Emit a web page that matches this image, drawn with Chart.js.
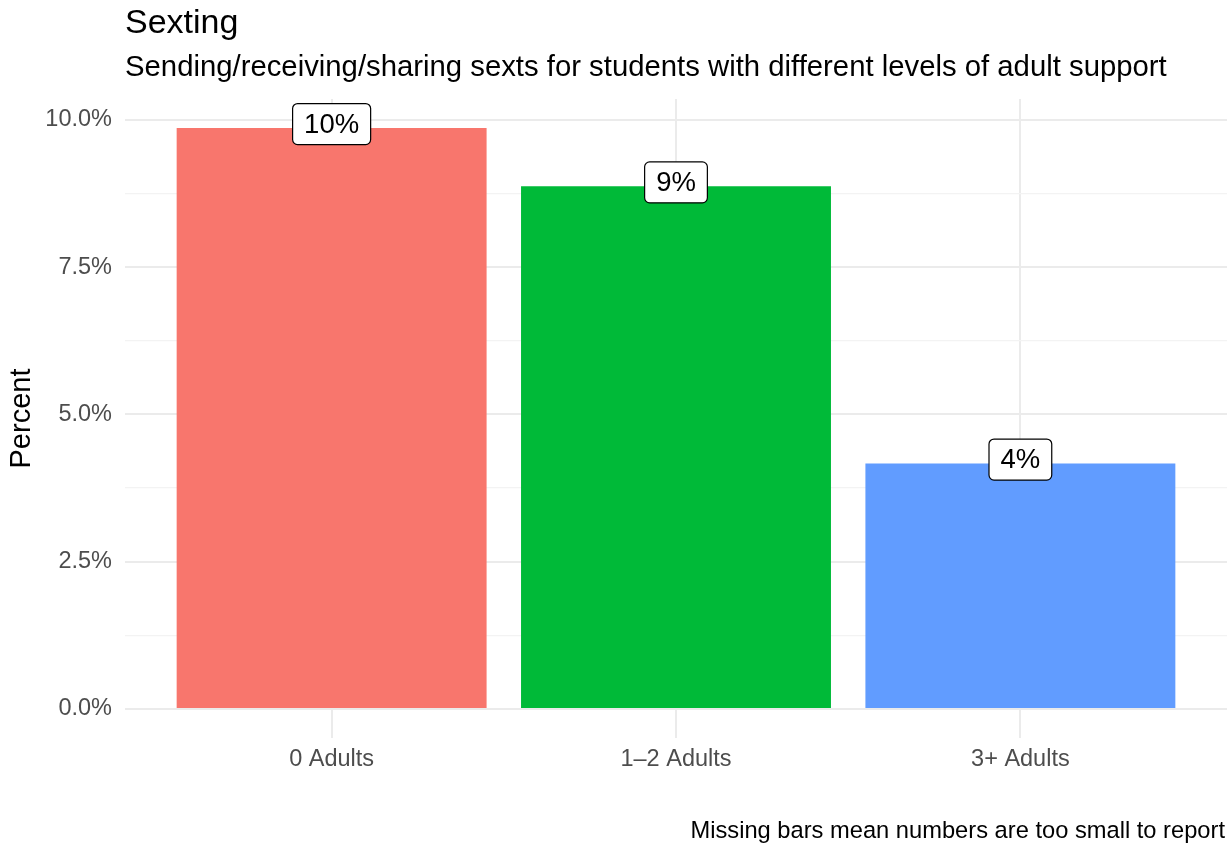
<!DOCTYPE html>
<html>
<head>
<meta charset="utf-8">
<script src="https://cdn.jsdelivr.net/npm/chart.js@4"></script>
<style>
  body { margin: 0; background: white; }
  #wrap { width: 1227px; height: 843px; }
</style>
</head>
<body>
<div id="wrap"><canvas id="myChart" width="1227" height="843"></canvas></div>
<script>
const categories = ['0 Adults', '1\u20132 Adults', '3+ Adults']
const percents = [9.86, 8.87, 4.165]
const barColors = ['#F8766D', '#00BA38', '#619CFF']
const yTicks = [0, 1.25, 2.5, 3.75, 5, 6.25, 7.5, 8.75, 10]

const titleText = 'Sexting'
const subtitleText = 'Sending/receiving/sharing sexts for students with different levels of adult support'
const captionText = 'Missing bars mean numbers are too small to report'
const FONT = '"Liberation Sans", Arial, sans-serif'

// ggplot style expansion of 5% on the y range
const yTop = Math.max(...percents) * 1.05
const yBottom = -Math.max(...percents) * 0.05

const textPlugin = {
  id: 'texts',
  afterDraw(chart) {
    const ctx = chart.ctx
    const area = chart.chartArea
    ctx.save()
    ctx.fillStyle = '#000'
    ctx.textAlign = 'left'
    ctx.textBaseline = 'alphabetic'
    ctx.font = '34px ' + FONT
    ctx.fillText(titleText, area.left, 33)
    ctx.font = '29.3px ' + FONT
    ctx.fillText(subtitleText, area.left, 76)
    ctx.font = '23.7px ' + FONT
    ctx.textAlign = 'right'
    ctx.fillText(captionText, 1225, 838)
    // y axis title
    ctx.translate(30, (area.top + area.bottom) / 2)
    ctx.rotate(-Math.PI / 2)
    ctx.textAlign = 'center'
    ctx.font = '29px ' + FONT
    ctx.fillText('Percent', 0, 0)
    ctx.restore()
  }
}

const labelPlugin = {
  id: 'barLabels',
  afterDatasetsDraw(chart) {
    const ctx = chart.ctx
    const meta = chart.getDatasetMeta(0)
    ctx.save()
    ctx.font = '27.5px ' + FONT
    meta.data.forEach((bar, i) => {
      const txt = Math.round(percents[i]) + '%'
      const w = ctx.measureText(txt).width + 23
      const h = 41
      const cx = bar.x
      const cy = bar.y - 4
      ctx.beginPath()
      ctx.roundRect(cx - w / 2, cy - h / 2, w, h, 5)
      ctx.fillStyle = 'white'
      ctx.fill()
      ctx.lineWidth = 1.2
      ctx.strokeStyle = '#000'
      ctx.stroke()
      ctx.fillStyle = '#000'
      ctx.textAlign = 'center'
      ctx.textBaseline = 'middle'
      ctx.fillText(txt, cx, cy + 1)
    })
    ctx.restore()
  }
}

new Chart('myChart', {
  type: 'bar',
  data: {
    datasets: [{
      data: percents.map((v, i) => ({ x: i, y: v })),
      backgroundColor: barColors,
      barPercentage: 0.9,
      categoryPercentage: 1
    }]
  },
  options: {
    responsive: false,
    animation: false,
    devicePixelRatio: 1,
    layout: { padding: { top: 99, bottom: 45, left: 0, right: 0 } },
    plugins: {
      legend: { display: false },
      tooltip: { enabled: false }
    },
    scales: {
      x: {
        type: 'linear',
        offset: false,
        min: -0.6,
        max: categories.length - 0.4,
        afterBuildTicks: s => { s.ticks = categories.map((c, i) => ({ value: i })) },
        afterFit: s => { s.height = 60 },
        border: { display: false },
        grid: { offset: false, color: '#EBEBEB', lineWidth: 2, drawTicks: false },
        ticks: {
          padding: 7,
          color: '#4D4D4D',
          font: { family: FONT, size: 23.5 },
          callback: v => categories[v]
        }
      },
      y: {
        min: yBottom,
        max: yTop,
        afterBuildTicks: s => { s.ticks = yTicks.map(v => ({ value: v })) },
        afterFit: s => { s.width = 125 },
        border: { display: false },
        grid: {
          drawTicks: false,
          color: c => (c.tick && c.tick.value % 2.5 === 0) ? '#EBEBEB' : '#F3F3F3',
          lineWidth: c => (c.tick && c.tick.value % 2.5 === 0) ? 2 : 1.2
        },
        ticks: {
          padding: 13,
          color: '#4D4D4D',
          font: { family: FONT, size: 23.5 },
          callback: v => v % 2.5 === 0 ? v.toFixed(1) + '%' : ''
        }
      }
    }
  },
  plugins: [textPlugin, labelPlugin]
})
</script>
</body>
</html>
